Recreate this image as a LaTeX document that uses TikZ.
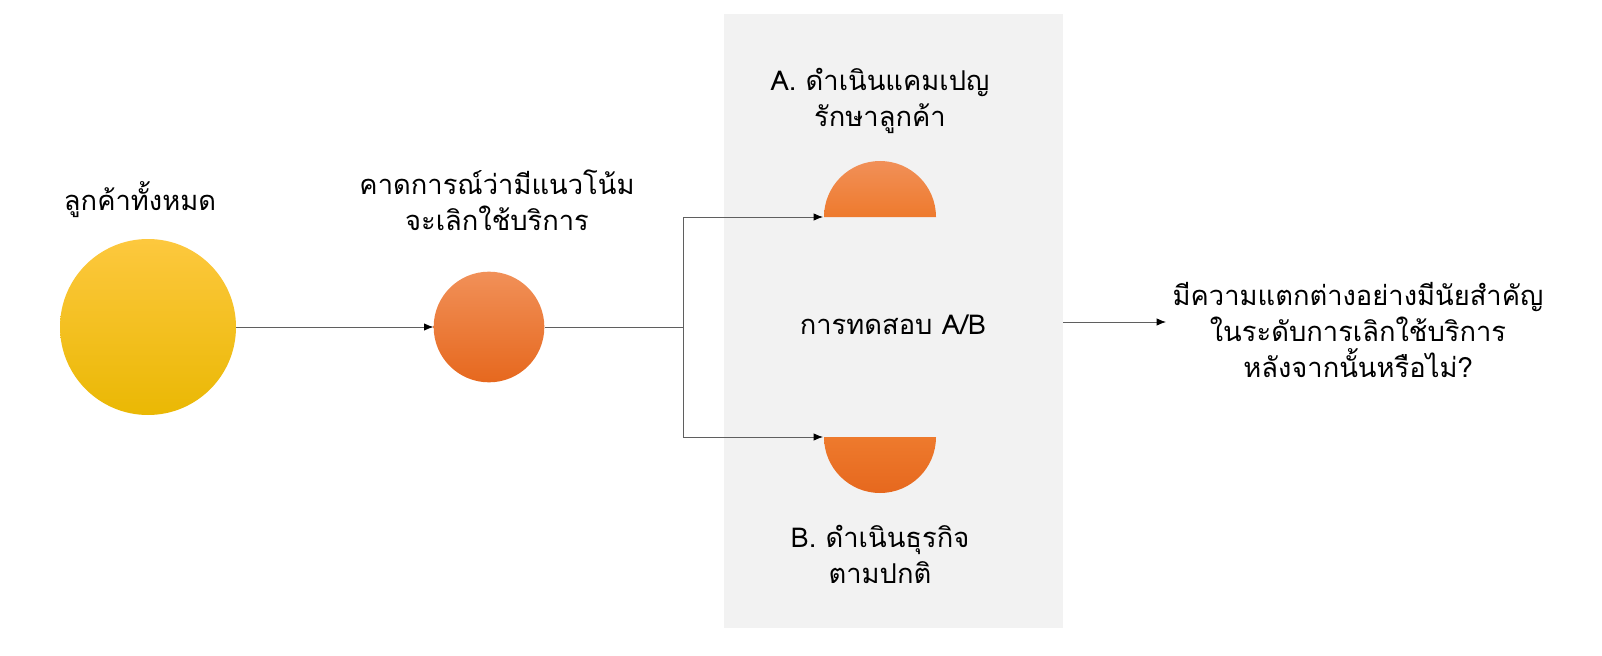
\documentclass[tikz,border=0pt]{standalone}
\usepackage{fontspec}
\newfontfamily\thaifont[Script=Thai]{Loma}
\usetikzlibrary{arrows.meta}

\definecolor{panelgray}{RGB}{242,242,242}
\definecolor{linegray}{RGB}{95,95,95}
\definecolor{sunTop}{RGB}{253,200,62}
\definecolor{sunBot}{RGB}{234,184,4}
\definecolor{orTop}{RGB}{241,144,88}
\definecolor{orMid}{RGB}{238,122,45}
\definecolor{orBot}{RGB}{230,104,30}

\begin{document}
\begin{tikzpicture}[x=0.75pt,y=0.75pt,yscale=-1,xscale=1,
  link/.style={draw=linegray, line width=0.6pt, -{Latex[length=7pt,width=5.5pt,fill=black,color=black]}},
  wire/.style={draw=linegray, line width=0.6pt},
  txt/.style={inner sep=0.75pt, align=center, font=\thaifont\fontsize{20.5}{27}\selectfont}]
  \useasboundingbox (0,0) rectangle (1602,656);

  % panel
  \fill[panelgray] (724,14) rectangle (1063,628);

  % circles
  \node[circle, minimum size=132pt, inner sep=0pt, top color=sunTop, bottom color=sunBot] (allcust) at (148,327) {};
  \node[circle, minimum size=83pt, inner sep=0pt, top color=orTop, bottom color=orBot] (churnrisk) at (489,327) {};

  % half circles
  \shade[top color=orTop, bottom color=orMid] (824,217) arc[start angle=180, end angle=360, radius=56] -- cycle;
  \shade[top color=orMid, bottom color=orBot] (824,437) arc[start angle=180, end angle=0, radius=56] -- cycle;

  \coordinate (split) at (683,327);
  \coordinate (campA) at (823,217);
  \coordinate (keepB) at (823,437);
  \coordinate (panelout) at (1063,322);
  \coordinate (askin) at (1166,322);

  % Text Node
  \node[txt] (alllbl) at (140,200) {ลูกค้าทั้งหมด};
  % Text Node
  \node[txt] (risklbl) at (497,200) {คาดการณ์ว่ามีแนวโน้ม\\จะเลิกใช้บริการ};
  % Text Node
  \node[txt] (albl) at (880,101) {A. ดำเนินแคมเปญ\\รักษาลูกค้า};
  % Text Node
  \node[txt] (ablbl) at (893,325) {การทดสอบ A/B};
  % Text Node
  \node[txt] (blbl) at (880,554) {B. ดำเนินธุรกิจ\\ตามปกติ};
  % Text Node
  \node[txt] (question) at (1358,330) {มีความแตกต่างอย่างมีนัยสำคัญ\\ในระดับการเลิกใช้บริการ\\หลังจากนั้นหรือไม่?};

  % connectors
  \draw[link] (allcust) -- (churnrisk);
  \draw[wire] (churnrisk) -- (split);
  \draw[link] (split) |- (campA);
  \draw[link] (split) |- (keepB);
  \draw[link] (panelout) -- (askin);
\end{tikzpicture}
\end{document}
